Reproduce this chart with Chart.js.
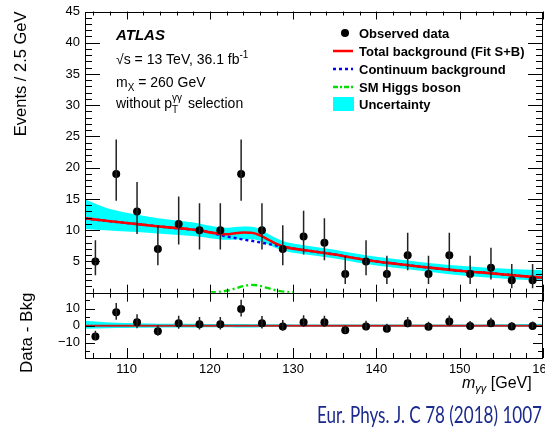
<!DOCTYPE html>
<html>
<head>
<meta charset="utf-8">
<script src="https://cdn.jsdelivr.net/npm/chart.js@4.4.1/dist/chart.umd.min.js"></script>
<style>
  html, body { margin: 0; padding: 0; background: #fff; }
</style>
</head>
<body>
<canvas id="chart1" width="545" height="433"></canvas>
<script>
// observed data, 2.5 GeV bins
const binCenters = [106.25, 108.75, 111.25, 113.75, 116.25, 118.75, 121.25, 123.75, 126.25, 128.75, 131.25,
                    133.75, 136.25, 138.75, 141.25, 143.75, 146.25, 148.75, 151.25, 153.75, 156.25, 158.75];
const observed = [5, 19, 13, 7, 11, 10, 10, 19, 10, 7, 9, 8, 3, 5, 3, 6, 3, 6, 3, 4, 2, 2];
const errUp   = [3.4, 5.5, 4.7, 3.8, 4.4, 4.3, 4.3, 5.5, 4.3, 3.8, 4.1, 3.9, 2.9, 3.4, 2.9, 3.6, 2.9, 3.6, 2.9, 3.2, 2.6, 2.6];
const errDown = [2.2, 4.3, 3.6, 2.6, 3.3, 3.1, 3.1, 4.3, 3.1, 2.6, 2.9, 2.8, 1.6, 2.2, 1.6, 2.4, 1.6, 2.4, 1.6, 1.9, 1.3, 1.3];
const residual = [-6.4, 7.9, 2.1, -3.3, 1.5, 0.9, 0.9, 9.8, 1.5, -0.4, 2.1, 2.0, -2.7, -0.4, -1.7, 1.5, -0.6, 2.5, -0.1, 1.5, -0.4, -0.1];

// fitted curves
const curveX    = [105, 107.5, 110, 112.5, 115, 117.5, 119, 120, 121, 122, 123, 124, 125, 126, 127, 128, 129, 130,
                   132.5, 135, 137.5, 140, 142.5, 145, 147.5, 150, 152.5, 155, 157.5, 160];
const totalBkg  = [11.9, 11.5, 11.15, 10.8, 10.45, 10.15, 9.9, 9.65, 9.45, 9.35, 9.5, 9.62, 9.6, 9.2, 8.5, 7.8, 7.3, 7.05,
                   6.6, 6.1, 5.5, 5.0, 4.6, 4.2, 3.85, 3.5, 3.25, 2.95, 2.65, 2.4];
const continuum = [11.9, 11.5, 11.15, 10.8, 10.45, 10.15, 9.9, 9.65, 9.3, 9.0, 8.75, 8.5, 8.3, 8.05, 7.8, 7.55, 7.3, 7.05,
                   6.6, 6.1, 5.5, 5.0, 4.6, 4.2, 3.85, 3.5, 3.25, 2.95, 2.65, 2.4];
const bandLow   = [10.2, 10.0, 9.8, 9.6, 9.35, 9.1, 8.9, 8.7, 8.55, 8.45, 8.5, 8.55, 8.55, 8.3, 7.7, 7.1, 6.65, 6.4,
                   5.95, 5.45, 4.85, 4.35, 3.95, 3.55, 3.15, 2.8, 2.5, 2.25, 2.05, 1.9];
const bandHigh  = [14.9, 13.6, 12.8, 12.2, 11.7, 11.3, 11.0, 10.7, 10.5, 10.4, 10.5, 10.6, 10.55, 10.2, 9.4, 8.7, 8.15, 7.85,
                   7.35, 6.85, 6.25, 5.75, 5.35, 4.95, 4.6, 4.3, 4.05, 3.85, 3.7, 3.6];
const higgsX = [120, 121, 122, 123, 124, 125, 126, 127, 128, 129, 130];
const higgs  = [0.05, 0.12, 0.3, 0.65, 1.05, 1.25, 1.1, 0.72, 0.35, 0.13, 0.05];

const xTicks = [110, 120, 130, 140, 150, 160];
const yTicks = [5, 10, 15, 20, 25, 30, 35, 40, 45];
const resTicks = [-10, 0, 10];

const FONT = '"Liberation Sans", Arial, Helvetica, sans-serif';
const pts = (xs, ys) => xs.map((x, i) => ({ x: x, y: ys[i] }));

// error bars for both panels
const errorBars = {
  id: 'errorBars',
  afterDatasetsDraw(chart) {
    const { ctx, scales: { x, y, yr } } = chart;
    ctx.save();
    ctx.strokeStyle = '#222';
    ctx.lineWidth = 1.5;
    binCenters.forEach((c, i) => {
      const px = x.getPixelForValue(c);
      ctx.beginPath();
      ctx.moveTo(px, y.getPixelForValue(observed[i] + errUp[i]));
      ctx.lineTo(px, y.getPixelForValue(observed[i] - errDown[i]));
      ctx.moveTo(px, yr.getPixelForValue(residual[i] + errUp[i]));
      ctx.lineTo(px, yr.getPixelForValue(residual[i] - errDown[i]));
      ctx.stroke();
    });
    ctx.restore();
  }
};

function richText(ctx, x, y, parts) {
  parts.forEach(p => {
    ctx.font = p.font;
    ctx.fillText(p.t, x, y + (p.dy || 0));
    if (!p.stay) x += ctx.measureText(p.t).width;
  });
  return x;
}

// frames, inward ticks, legend and labels
const decor = {
  id: 'decor',
  afterDraw(chart) {
    const { ctx, scales: { x, y, yr } } = chart;
    const L = x.left, R = x.right;
    ctx.save();
    ctx.strokeStyle = '#000';
    ctx.lineWidth = 1;
    [y, yr].forEach(s => ctx.strokeRect(L + 0.5, Math.round(s.top) + 0.5, R - L - 1, Math.round(s.bottom - s.top)));

    ctx.beginPath();
    const tickX = (edge, dir, major, minor) => {
      for (let v = 106; v <= 160; v += 2) {
        const px = Math.round(x.getPixelForValue(v)) + 0.5;
        const len = v % 10 === 0 ? major : minor;
        ctx.moveTo(px, edge);
        ctx.lineTo(px, edge + dir * len);
      }
    };
    tickX(y.top, 1, 8, 4);
    tickX(y.bottom, -1, 8, 4);
    tickX(yr.top, 1, 9, 5);
    tickX(yr.bottom, -1, 10, 5);
    for (let v = 1; v < 45; v++) {
      const py = Math.round(y.getPixelForValue(v)) + 0.5;
      const len = v % 5 === 0 ? 15 : 7;
      ctx.moveTo(L, py); ctx.lineTo(L + len, py);
      ctx.moveTo(R, py); ctx.lineTo(R - len, py);
    }
    for (let v = -15; v <= 15; v += 5) {
      const py = Math.round(yr.getPixelForValue(v)) + 0.5;
      const len = v % 10 === 0 ? 10 : 5;
      ctx.moveTo(L, py); ctx.lineTo(L + len, py);
      ctx.moveTo(R, py); ctx.lineTo(R - len, py);
    }
    ctx.stroke();

    // ATLAS labels
    ctx.fillStyle = '#000';
    ctx.textBaseline = 'alphabetic';
    ctx.textAlign = 'left';
    richText(ctx, 116, 40, [{ t: 'ATLAS', font: 'italic bold 15px ' + FONT }]);
    const f13 = '14px ' + FONT, f9 = '10px ' + FONT;
    richText(ctx, 116, 64, [{ t: '\u221As = 13 TeV, 36.1 fb', font: f13 }, { t: '-1', font: f9, dy: -6 }]);
    richText(ctx, 116, 87, [{ t: 'm', font: f13 }, { t: 'X', font: f9, dy: 4 }, { t: ' = 260 GeV', font: f13 }]);
    let xx = richText(ctx, 116, 108, [{ t: 'without p', font: f13 }]);
    richText(ctx, xx, 108, [{ t: '\u03B3\u03B3', font: f9, dy: -7, stay: true }, { t: 'T', font: f9, dy: 5 }]);
    richText(ctx, xx + 12, 108, [{ t: ' selection', font: f13 }]);

    // legend
    const lx = 333, rows = [33, 51, 69, 87, 104];
    ctx.font = 'bold 13px ' + FONT;
    ctx.textBaseline = 'middle';
    ['Observed data', 'Total background (Fit S+B)', 'Continuum background', 'SM Higgs boson', 'Uncertainty']
      .forEach((t, i) => ctx.fillText(t, 359, rows[i] + 1));
    ctx.beginPath(); ctx.arc(345, rows[0], 4, 0, 2 * Math.PI); ctx.fill();
    const legLine = (row, color, dash, w) => {
      ctx.beginPath(); ctx.strokeStyle = color; ctx.lineWidth = w; ctx.setLineDash(dash);
      ctx.moveTo(lx, row); ctx.lineTo(lx + 20, row); ctx.stroke();
    };
    legLine(rows[1], '#ff0000', [], 2.5);
    legLine(rows[2], '#0000ff', [3, 3], 2.5);
    legLine(rows[3], '#00e000', [5, 2, 2, 2], 2.4);
    ctx.setLineDash([]);
    ctx.fillStyle = '#00ffff';
    ctx.fillRect(lx, rows[4] - 7, 21, 14);

    // x title
    ctx.fillStyle = '#000';
    ctx.textBaseline = 'alphabetic';
    richText(ctx, 462, 388, [
      { t: 'm', font: 'italic 16px ' + FONT },
      { t: '\u03B3\u03B3', font: 'italic 11px ' + FONT, dy: 4 },
      { t: ' [GeV]', font: '16px ' + FONT }
    ]);

    // reference
    ctx.fillStyle = '#1b2a8c';
    ctx.font = '24px Lato, "Open Sans", sans-serif';
    ctx.fillText('Eur. Phys. J. C 78 (2018) 1007', 317, 423, 225);
    ctx.restore();
  }
};

const resBandLow = bandLow.map((v, i) => v - totalBkg[i]);
const resBandHigh = bandHigh.map((v, i) => v - totalBkg[i]);

const lineDefaults = { pointRadius: 0, fill: false, cubicInterpolationMode: 'monotone' };
const noPad = s => { s.paddingLeft = 0; s.paddingRight = 0; s.paddingTop = 0; s.paddingBottom = 0; };

const ctx = document.getElementById('chart1').getContext('2d');
const chart1 = new Chart(ctx, {
  type: 'line',
  data: {
    datasets: [
      { ...lineDefaults, label: 'bandLow', data: pts(curveX, bandLow), yAxisID: 'y', borderWidth: 0, order: 6 },
      { ...lineDefaults, label: 'Uncertainty', data: pts(curveX, bandHigh), yAxisID: 'y', borderWidth: 0,
        fill: { target: 0 }, backgroundColor: '#00ffff', order: 5 },
      { ...lineDefaults, label: 'SM Higgs boson', data: pts(higgsX, higgs), yAxisID: 'y',
        borderColor: '#00e000', borderWidth: 2.4, borderDash: [6, 3, 2, 3], order: 4 },
      { ...lineDefaults, label: 'Continuum background', data: pts(curveX, continuum), yAxisID: 'y',
        borderColor: '#0000ff', borderWidth: 2.4, borderDash: [3, 3], order: 3 },
      { ...lineDefaults, label: 'Total background (Fit S+B)', data: pts(curveX, totalBkg), yAxisID: 'y',
        borderColor: '#ff0000', borderWidth: 2.6, order: 2 },
      { label: 'Observed data', data: pts(binCenters, observed), yAxisID: 'y', showLine: false,
        pointRadius: 4, pointBackgroundColor: '#000', pointBorderWidth: 0, order: 0 },
      // lower panel
      { ...lineDefaults, label: 'resBandLow', data: pts(curveX, resBandLow), yAxisID: 'yr', borderWidth: 0, order: 6 },
      { ...lineDefaults, label: 'resBandHigh', data: pts(curveX, resBandHigh), yAxisID: 'yr', borderWidth: 0,
        fill: { target: 6 }, backgroundColor: '#00ffff', order: 5 },
      { ...lineDefaults, label: 'zero', data: pts([105, 160], [0, 0]), yAxisID: 'yr',
        borderColor: '#c81a1a', borderWidth: 2.2, order: 2 },
      { label: 'Data - Bkg', data: pts(binCenters, residual), yAxisID: 'yr', showLine: false,
        pointRadius: 4, pointBackgroundColor: '#000', pointBorderWidth: 0, order: 0 }
    ]
  },
  options: {
    responsive: false,
    animation: false,
    layout: { padding: { left: 0, right: 2, top: 11.5, bottom: 0 }, autoPadding: false },
    plugins: { legend: { display: false }, tooltip: { enabled: false } },
    scales: {
      x: {
        type: 'linear', position: 'bottom', min: 105, max: 160,
        afterBuildTicks: s => { s.ticks = xTicks.map(v => ({ value: v })); },
        afterFit: s => { s.height = 75; noPad(s); },
        grid: { display: false, drawTicks: false }, border: { display: false },
        ticks: { font: { family: FONT, size: 13 }, color: '#000', padding: 4, maxRotation: 0, autoSkip: false }
      },
      yr: {
        type: 'linear', position: 'left', stack: 'v', stackWeight: 65.3, weight: 0, min: -19, max: 19.5,
        afterBuildTicks: s => { s.ticks = resTicks.map(v => ({ value: v })); },
        afterFit: s => { s.width = 85; noPad(s); },
        grid: { display: false, drawTicks: false }, border: { display: false },
        ticks: { font: { family: FONT, size: 13 }, color: '#000', padding: 5,
                 callback: v => v < 0 ? '\u2212' + Math.abs(v) : String(v) },
        title: { display: true, text: 'Data - Bkg', align: 'end', color: '#000',
                 font: { family: FONT, size: 17 }, padding: { top: 17.5, bottom: 0 } }
      },
      y: {
        type: 'linear', position: 'left', stack: 'v', stackWeight: 281, weight: 1, min: 0, max: 45,
        afterBuildTicks: s => { s.ticks = yTicks.map(v => ({ value: v })); },
        afterFit: s => { s.width = 85; noPad(s); },
        grid: { display: false, drawTicks: false }, border: { display: false },
        ticks: { font: { family: FONT, size: 13 }, color: '#000', padding: 5 },
        title: { display: true, text: 'Events / 2.5 GeV', align: 'end', color: '#000',
                 font: { family: FONT, size: 16.5 }, padding: { top: 12, bottom: 0 } }
      }
    }
  },
  plugins: [errorBars, decor]
});
</script>
</body>
</html>
